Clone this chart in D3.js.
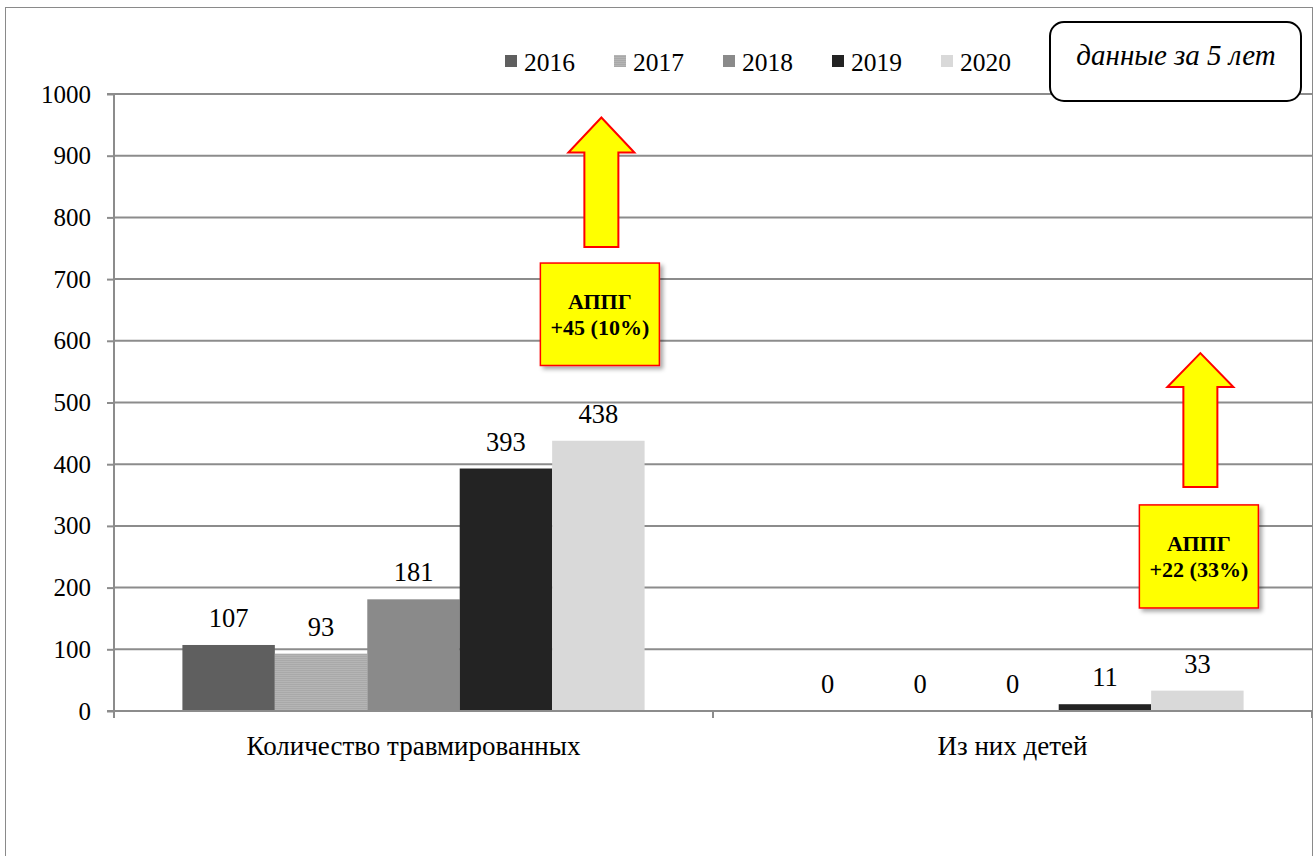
<!DOCTYPE html>
<html><head><meta charset="utf-8">
<script src="https://cdn.jsdelivr.net/npm/d3@7"></script>
<style>body{margin:0;background:#fff}svg{display:block}</style>
</head><body>
<svg id="c" width="1315" height="856"></svg>
<script>
const categories = ["Количество травмированных", "Из них детей"];
const years = ["2016", "2017", "2018", "2019", "2020"];
const values2016 = [107, 0];
const values2017 = [93, 0];
const values2018 = [181, 0];
const values2019 = [393, 11];
const values2020 = [438, 33];
const yTicks = [0, 100, 200, 300, 400, 500, 600, 700, 800, 900, 1000];
const colors = ["#5f5f5f", "#b2b2b2", "#8a8a8a", "#232323", "#d9d9d9"];
const callouts = [
  {cat: 0, line1: "АППГ", line2: "+45 (10%)"},
  {cat: 1, line1: "АППГ", line2: "+22 (33%)"}
];
const note = "данные за 5 лет";

const series = [values2016, values2017, values2018, values2019, values2020];
const svg = d3.select("#c");
const serif = "Liberation Serif";

const defs = svg.append("defs");
const pat = defs.append("pattern").attr("id","p2017").attr("patternUnits","userSpaceOnUse").attr("width",4).attr("height",2);
pat.append("rect").attr("width",4).attr("height",2).attr("fill","#b5b5b5");
pat.append("rect").attr("width",4).attr("height",1).attr("fill","#a9a9a9");
const f = defs.append("filter").attr("id","sh").attr("x","-20%").attr("y","-20%").attr("width","150%").attr("height","150%");
f.append("feDropShadow").attr("dx",3).attr("dy",3).attr("stdDeviation",2).attr("flood-color","#000").attr("flood-opacity",0.35);

// outer border
svg.append("rect").attr("x",5.5).attr("y",7.5).attr("width",1307).attr("height",860).attr("fill","none").attr("stroke","#8a8a8a").attr("stroke-width",1);

const pLeft = 114, pRight = 1312, pTop = 94, pBottom = 711;
const x0 = d3.scaleBand().domain(categories).range([pLeft, pRight]).paddingInner(0).paddingOuter(0);
const x1 = d3.scaleBand().domain(years).range([0, x0.bandwidth()]).paddingOuter(0.74).paddingInner(0);
const y = d3.scaleLinear().domain([0, 1000]).range([pBottom, pTop]);

// gridlines
svg.append("g").selectAll("line").data(yTicks.filter(d=>d>0)).join("line")
  .attr("x1", pLeft).attr("x2", pRight).attr("y1", d=>y(d)).attr("y2", d=>y(d))
  .attr("stroke","#8c8c8c").attr("stroke-width",2);

// y axis
const yAxis = svg.append("g").attr("transform",`translate(${pLeft},0)`)
  .call(d3.axisLeft(y).tickValues(yTicks).tickSize(7).tickPadding(16).tickFormat(d3.format("d")));
yAxis.attr("font-family", null).attr("font-size", null);
yAxis.select(".domain").attr("stroke","#8c8c8c").attr("stroke-width",2).attr("d",`M-7,${pTop}H0V${pBottom}H-7`);
yAxis.selectAll(".tick line").attr("stroke","#8c8c8c").attr("stroke-width",2);
yAxis.selectAll(".tick text").style("font-family",serif).style("font-size","25px").attr("fill","#000");

// bars
const g = svg.append("g");
categories.forEach((c, ci) => {
  years.forEach((yr, si) => {
    const v = series[si][ci];
    const bx = x0(c) + x1(yr);
    g.append("rect").attr("x", bx).attr("y", y(v)).attr("width", x1.bandwidth()).attr("height", y(0) - y(v))
      .attr("fill", si === 1 ? "url(#p2017)" : colors[si]);
    g.append("text").attr("x", bx + x1.bandwidth()/2).attr("y", y(v) - 18)
      .attr("text-anchor","middle").style("font-family",serif).style("font-size","26.5px").attr("fill","#000").text(v);
  });
});

// x axis
const xAxis = svg.append("g").attr("transform",`translate(0,${pBottom})`);
xAxis.append("line").attr("x1",pLeft).attr("x2",pRight).attr("y1",0).attr("y2",0).attr("stroke","#8c8c8c").attr("stroke-width",2);
[pLeft, x0(categories[1]), pRight].forEach(px => {
  xAxis.append("line").attr("x1",px).attr("x2",px).attr("y1",0).attr("y2",7).attr("stroke","#8c8c8c").attr("stroke-width",2);
});
categories.forEach(c => {
  xAxis.append("text").attr("x", x0(c) + x0.bandwidth()/2).attr("y", 44).attr("text-anchor","middle")
    .style("font-family",serif).style("font-size","27px").attr("fill","#000").text(c);
});

// legend
const lg = svg.append("g");
years.forEach((yr, i) => {
  const lx = 505 + i * 109;
  lg.append("rect").attr("x", lx).attr("y", 55).attr("width", 12).attr("height", 12).attr("fill", i === 1 ? "url(#p2017)" : colors[i]);
  lg.append("text").attr("x", lx + 19).attr("y", 71).style("font-family",serif).style("font-size","25.5px").attr("fill","#000").text(yr);
});

// note box
svg.append("rect").attr("x",1050).attr("y",22).attr("width",251).attr("height",79).attr("rx",14).attr("ry",14)
  .attr("fill","#fff").attr("stroke","#000").attr("stroke-width",2);
svg.append("text").attr("x",1176).attr("y",65).attr("text-anchor","middle").style("font-family",serif)
  .style("font-style","italic").style("font-size","29px").attr("fill","#000").text(note);

// callouts
const arrowSpec = [
  {tip: 962, headBase: 905, bottomV: 752, boxTop: 726, boxBot: 560},
  {tip: 580, headBase: 525, bottomV: 363, boxTop: 334, boxBot: 167}
];
callouts.forEach((co, i) => {
  const s = arrowSpec[i];
  const cx = x0(categories[co.cat]) + x1("2020") + x1.bandwidth()/2 + 3;
  const hw = 33, sw = 17;
  const pts = [[cx, y(s.tip)], [cx+hw, y(s.headBase)], [cx+sw, y(s.headBase)], [cx+sw, y(s.bottomV)],
               [cx-sw, y(s.bottomV)], [cx-sw, y(s.headBase)], [cx-hw, y(s.headBase)]];
  svg.append("polygon").attr("points", pts.map(p=>p.join(",")).join(" "))
    .attr("fill","#ffff00").attr("stroke","#ff0000").attr("stroke-width",2);
  const bw = 119;
  svg.append("rect").attr("x", cx - 61).attr("y", y(s.boxTop)).attr("width", bw).attr("height", y(s.boxBot) - y(s.boxTop))
    .attr("fill","#ffff00").attr("stroke","#ff0000").attr("stroke-width",1.5).attr("filter","url(#sh)");
  const my = (y(s.boxTop) + y(s.boxBot)) / 2;
  svg.append("text").attr("x", cx - 61 + bw/2).attr("y", my - 5).attr("text-anchor","middle")
    .style("font-family",serif).style("font-weight","bold").style("font-size","22px").attr("fill","#000").text(co.line1);
  svg.append("text").attr("x", cx - 61 + bw/2).attr("y", my + 21).attr("text-anchor","middle")
    .style("font-family",serif).style("font-weight","bold").style("font-size","22px").attr("fill","#000").text(co.line2);
});
</script>
</body></html>
